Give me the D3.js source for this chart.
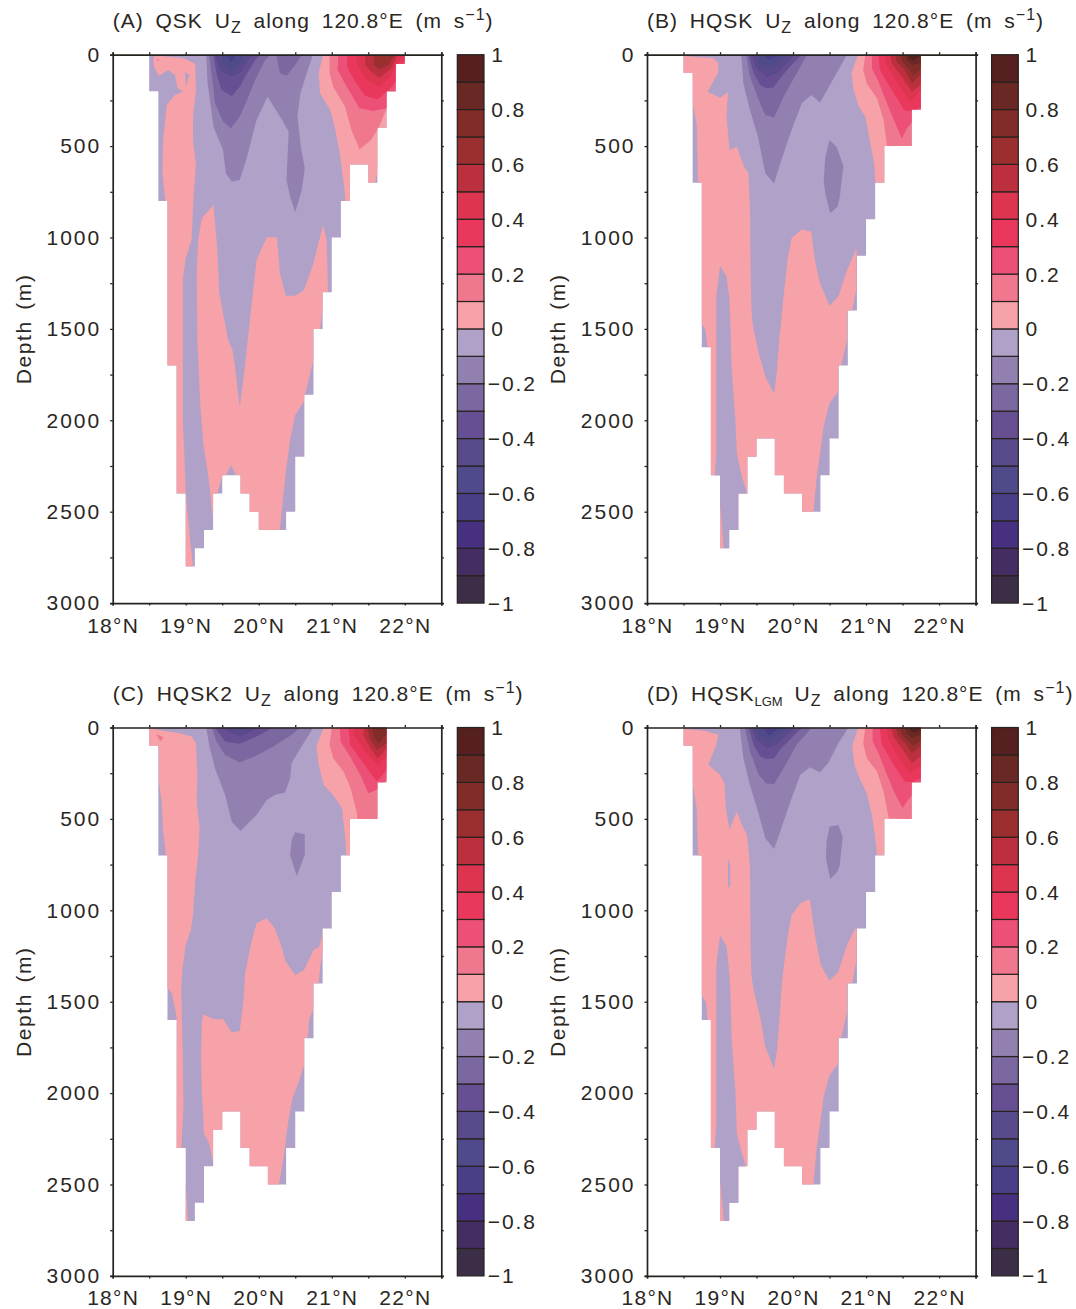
<!DOCTYPE html>
<html>
<head>
<meta charset="utf-8">
<script src="https://cdn.jsdelivr.net/npm/d3@7"></script>
<style>
  html, body { margin: 0; background: #fff; }
  svg { display: block; }
  text { font-family: "Liberation Sans", Arial, sans-serif; fill: #2a2622; }
</style>
</head>
<body>
<svg width="1076" height="1309"></svg>
<script>
// colour bands from -1 to 1, one for every 0.1
const bandColors = ["#3c2e47", "#432d63", "#46307f", "#493f88", "#4f4a8a", "#594a8c", "#665093", "#7b68a0", "#9180b0", "#afa1c8",
  "#f6a2a8", "#f0788e", "#ec5077", "#e9385c", "#dd3450", "#bb2f3f", "#9b2f30", "#822c2a", "#6a2825", "#55201f"];
const barLabels = [1, 0.8, 0.6, 0.4, 0.2, 0, -0.2, -0.4, -0.6, -0.8, -1];
const latTicks = d3.range(18, 22.51, 0.5);
const depthTicks = d3.range(0, 3001, 250);

// sea floor: depth of each 1/8 degree column, starting at 18.5N
const floorA = [200, 800, 1700, 2400, 2800, 2700, 2600, 2400, 2300, 2300, 2400, 2500, 2600, 2600, 2600, 2500, 2200, 1860, 1500, 1300, 1000, 800, 600, 600, 700, 400, 200, 50];
const floorB = [100, 700, 1600, 2300, 2700, 2600, 2400, 2200, 2100, 2100, 2300, 2400, 2400, 2500, 2500, 2300, 2100, 1700, 1400, 1100, 900, 700, 500, 500, 500, 300];

// contour bands: [band, [[lat, depth], ...]], painted in order
const layersA = [
  [0.05, [[18.56,10],[18.67,7],[18.97,20],[19.13,50],[19.14,193],[19.10,339],[19.10,467],[19.14,603],[19.11,758],[19.08,1014],[19.00,1114],[18.96,1232],[18.96,1560],[18.96,1997],[18.98,2180],[19.00,2398],[19.06,2654],[19.10,2796],[19.10,2820],[18.7,2820],[18.7,810],[18.72,802],[18.68,649],[18.69,467],[18.74,275],[18.85,221],[18.96,202],[18.89,184],[18.85,111],[18.76,84],[18.63,117],[18.56,57]]],
  [-0.05, [[18.99,93],[19.05,111],[19.00,175]]],
  [0.15, [[18.61,22],[18.64,28],[18.61,36]]],
  [0.05, [[19.38,822],[19.43,1050],[19.46,1305],[19.58,1560],[19.64,1614],[19.68,1723],[19.74,1928],[19.80,1742],[19.85,1560],[19.88,1450],[19.97,1123],[20.11,999],[20.25,999],[20.29,1196],[20.37,1318],[20.50,1318],[20.62,1287],[20.75,1141],[20.88,932],[20.93,1014],[20.95,1300],[20.88,1300],[20.88,1378],[20.84,1502],[20.75,1502],[20.75,1669],[20.63,1864],[20.62,1897],[20.50,1970],[20.43,2106],[20.38,2252],[20.34,2398],[20.29,2598],[20.29,2620],[19.74,2620],[19.74,2300],[19.69,2300],[19.62,2243],[19.55,2300],[19.50,2307],[19.43,2402],[19.40,2416],[19.375,2544],[19.31,2307],[19.24,2125],[19.20,1924],[19.16,1559],[19.15,1196],[19.17,1014],[19.22,895]]],
  [0.05, [[20.88,0],[20.82,102],[20.84,211],[20.98,303],[21.05,412],[21.11,540],[21.17,722],[21.19,813],[21.48,813],[21.59,707],[21.63,631],[21.94,467],[22.16,0]]],
  [0.15, [[20.97,0],[20.97,102],[21.02,175],[21.18,284],[21.27,412],[21.38,518],[21.53,470],[21.64,403],[21.80,248],[22.16,0]]],
  [0.25, [[21.09,0],[21.08,84],[21.18,157],[21.38,293],[21.57,308],[21.75,293],[22.16,0]]],
  [0.35, [[21.21,0],[21.21,66],[21.32,148],[21.46,226],[21.63,244],[21.78,193],[21.89,139],[22.03,0]]],
  [0.45, [[21.34,0],[21.34,47],[21.46,129],[21.64,175],[21.80,120],[21.89,57],[22.0,0]]],
  [0.55, [[21.46,0],[21.46,57],[21.56,102],[21.66,126],[21.81,75],[21.88,20],[21.90,0]]],
  [0.65, [[21.58,0],[21.57,57],[21.66,80],[21.78,57],[21.86,0]]],
  [-0.15, [[19.28,0],[19.30,157],[19.38,394],[19.51,521],[19.55,649],[19.63,695],[19.74,685],[19.84,558],[19.97,357],[20.12,230],[20.32,357],[20.41,421],[20.38,685],[20.43,777],[20.50,862],[20.59,740],[20.63,622],[20.58,512],[20.53,339],[20.57,211],[20.74,0]]],
  [-0.25, [[19.32,0],[19.36,120],[19.40,266],[19.51,366],[19.62,403],[19.74,339],[19.84,248],[19.95,139],[20.09,29],[20.16,0]]],
  [-0.25, [[20.24,0],[20.29,102],[20.38,115],[20.50,57],[20.59,0]]],
  [-0.35, [[19.38,0],[19.42,102],[19.49,193],[19.63,226],[19.74,175],[19.84,102],[19.95,29],[20.02,0]]],
  [-0.45, [[19.40,0],[19.47,84],[19.61,120],[19.74,102],[19.86,29],[19.90,0]]],
  [-0.55, [[19.47,0],[19.52,47],[19.62,84],[19.74,47],[19.81,0]]],
  [-0.65, [[19.55,0],[19.62,40],[19.70,0]]]
];

const layersB = [
  [0.05, [[18.4,7],[18.50,7],[18.91,20],[18.98,47],[18.97,102],[18.83,202],[19.00,235],[19.11,206],[19.09,339],[19.13,521],[19.23,503],[19.33,613],[19.39,649],[19.41,831],[19.42,1196],[19.43,1378],[19.44,1450],[19.46,1505],[19.53,1632],[19.62,1760],[19.74,1855],[19.78,1723],[19.81,1559],[19.84,1450],[19.87,1323],[19.93,1105],[19.98,1004],[20.12,955],[20.25,968],[20.30,1123],[20.37,1251],[20.50,1373],[20.62,1323],[20.74,1178],[20.87,1059],[20.87,1278],[20.81,1402],[20.74,1402],[20.74,1559],[20.66,1700],[20.62,1700],[20.62,1842],[20.50,1906],[20.42,2033],[20.37,2179],[20.32,2325],[20.28,2498],[20.28,2526],[19.0,2720],[18.85,2720],[18.83,1614],[18.83,1600],[18.80,1505],[18.74,1468],[18.70,1468],[18.70,704],[18.68,376],[18.62,257],[18.62,102],[18.4,110]]],
  [-0.05, [[19.0,1156],[19.09,1214],[19.13,1342],[19.14,1450],[19.16,1723],[19.21,1997],[19.23,2179],[19.30,2307],[19.37,2402],[19.37,2720],[19.05,2720],[19.05,2700],[19.0,2453],[18.93,2300],[18.95,2179],[18.95,1997],[18.95,1450],[18.95,1323]]],
  [0.05, [[20.89,0],[20.80,102],[20.83,193],[20.90,284],[20.99,339],[21.05,467],[21.11,594],[21.13,713],[21.72,713],[21.95,0]]],
  [0.15, [[20.99,0],[20.96,84],[21.01,157],[21.15,239],[21.24,357],[21.29,512],[21.72,512],[21.85,0]]],
  [0.25, [[21.08,0],[21.08,75],[21.17,148],[21.26,239],[21.37,348],[21.49,458],[21.56,403],[21.65,357],[21.76,306],[21.85,0]]],
  [0.35, [[21.17,0],[21.19,84],[21.35,193],[21.53,306],[21.65,306],[21.85,270],[21.85,0]]],
  [0.45, [[21.26,0],[21.28,57],[21.44,157],[21.60,257],[21.76,193],[21.85,0]]],
  [0.55, [[21.33,0],[21.35,47],[21.49,120],[21.63,202],[21.76,157],[21.85,0]]],
  [0.65, [[21.40,0],[21.42,38],[21.53,84],[21.63,157],[21.76,102],[21.85,0]]],
  [0.75, [[21.47,0],[21.49,38],[21.58,75],[21.65,111],[21.76,75],[21.85,0]]],
  [0.85, [[21.53,0],[21.56,29],[21.63,57],[21.76,44],[21.85,0]]],
  [0.95, [[21.58,0],[21.60,20],[21.65,33],[21.76,0]]],
  [-0.15, [[19.29,0],[19.32,157],[19.41,303],[19.52,449],[19.62,649],[19.74,704],[19.84,576],[19.98,412],[20.12,266],[20.25,221],[20.37,261],[20.48,184],[20.62,84],[20.74,0]]],
  [-0.15, [[20.50,467],[20.60,507],[20.69,609],[20.64,777],[20.61,831],[20.51,868],[20.45,777],[20.42,695],[20.44,567]]],
  [-0.25, [[19.36,0],[19.41,120],[19.53,248],[19.62,330],[19.74,343],[19.87,230],[20.05,102],[20.19,0]]],
  [-0.35, [[19.39,0],[19.46,102],[19.55,166],[19.63,184],[19.73,180],[19.84,120],[19.98,57],[20.12,0]]],
  [-0.45, [[19.43,0],[19.50,75],[19.64,120],[19.78,102],[19.91,47],[20.03,0]]],
  [-0.55, [[19.48,0],[19.55,47],[19.66,66],[19.80,38],[19.91,0]]],
  [-0.65, [[19.59,0],[19.66,29],[19.78,7],[19.82,0]]]
];

const layersC = [
  [0.05, [[18.4,7],[18.50,4],[18.69,18],[18.92,31],[19.08,49],[19.14,86],[19.16,259],[19.15,405],[19.19,551],[19.17,697],[19.13,843],[19.10,1026],[19.07,1108],[19.0,1190],[18.95,1336],[18.94,1436],[18.96,1801],[18.97,2075],[18.95,2221],[18.94,2312],[18.87,2312],[18.88,1618],[18.88,1597],[18.85,1527],[18.81,1454],[18.75,1427],[18.70,1427],[18.73,697],[18.69,569],[18.67,405],[18.63,287],[18.63,104],[18.4,104]]],
  [0.05, [[19.0,2495],[19.03,2695],[19.03,2720],[18.98,2720],[18.98,2495]]],
  [0.15, [[18.60,36],[18.70,55],[18.65,77]]],
  [0.05, [[19.97,1071],[20.11,1044],[20.22,1099],[20.29,1172],[20.37,1281],[20.50,1354],[20.62,1327],[20.75,1217],[20.83,1199],[20.88,1117],[20.88,1208],[20.84,1318],[20.82,1400],[20.75,1400],[20.75,1536],[20.69,1600],[20.67,1697],[20.62,1697],[20.62,1847],[20.54,1947],[20.47,2020],[20.43,2093],[20.38,2221],[20.36,2296],[20.32,2403],[20.28,2495],[20.28,2531],[19.38,2531],[19.38,2394],[19.36,2348],[19.32,2276],[19.25,2221],[19.22,1984],[19.21,1801],[19.22,1618],[19.24,1569],[19.38,1595],[19.51,1595],[19.63,1668],[19.74,1659],[19.79,1491],[19.80,1436],[19.81,1354],[19.88,1208]]],
  [0.05, [[20.89,0],[20.79,104],[20.82,204],[20.89,314],[21.02,369],[21.14,442],[21.18,588],[21.20,697],[21.72,697],[21.95,0]]],
  [0.15, [[21.0,0],[20.97,95],[21.02,168],[21.16,241],[21.25,323],[21.34,460],[21.35,500],[21.72,500],[21.85,0]]],
  [0.25, [[21.11,0],[21.12,77],[21.25,159],[21.39,259],[21.50,360],[21.62,341],[21.75,287],[21.85,0]]],
  [0.35, [[21.23,0],[21.25,95],[21.43,195],[21.62,296],[21.75,232],[21.85,0]]],
  [0.45, [[21.32,0],[21.30,40],[21.48,141],[21.63,204],[21.75,159],[21.85,0]]],
  [0.55, [[21.45,0],[21.43,40],[21.53,113],[21.63,168],[21.75,113],[21.85,0]]],
  [0.65, [[21.48,0],[21.53,68],[21.62,122],[21.75,86],[21.85,0]]],
  [0.75, [[21.55,0],[21.57,49],[21.64,86],[21.75,40],[21.85,0]]],
  [-0.15, [[19.28,0],[19.33,113],[19.40,223],[19.54,369],[19.63,515],[19.75,566],[19.97,478],[20.11,396],[20.22,369],[20.36,356],[20.43,277],[20.45,195],[20.57,113],[20.75,0]]],
  [-0.15, [[20.50,573],[20.63,584],[20.63,697],[20.52,812],[20.43,697],[20.45,615]]],
  [-0.25, [[19.36,0],[19.42,77],[19.54,150],[19.74,192],[19.97,153],[20.20,104],[20.45,40],[20.57,0]]],
  [-0.35, [[19.40,0],[19.54,77],[19.74,89],[19.97,49],[20.20,0]]],
  [-0.45, [[19.5,0],[19.62,30],[19.75,48],[19.9,20],[20.0,0]]],
  [-0.55, [[19.65,0],[19.75,15],[19.85,0]]]
];

const layersD = [
  [0.05, [[18.4,7],[18.50,7],[18.79,18],[18.98,40],[18.95,95],[18.84,204],[19.0,259],[19.06,305],[19.08,442],[19.13,560],[19.23,460],[19.30,533],[19.37,588],[19.41,752],[19.42,1208],[19.43,1354],[19.46,1436],[19.55,1582],[19.62,1746],[19.74,1865],[19.78,1765],[19.81,1618],[19.84,1436],[19.87,1318],[19.93,1135],[19.98,1026],[20.10,962],[20.23,940],[20.30,1135],[20.38,1299],[20.50,1385],[20.62,1336],[20.74,1190],[20.87,1084],[20.87,1272],[20.81,1400],[20.74,1400],[20.74,1555],[20.66,1697],[20.62,1697],[20.62,1838],[20.50,1901],[20.42,2020],[20.37,2166],[20.32,2312],[20.28,2494],[20.28,2531],[19.0,2720],[18.85,2720],[18.83,1610],[18.83,1597],[18.81,1509],[18.74,1454],[18.70,1454],[18.70,697],[18.68,442],[18.62,296],[18.62,104],[18.4,104]]],
  [-0.05, [[19.0,1135],[19.09,1199],[19.13,1354],[19.14,1436],[19.16,1710],[19.21,1984],[19.23,2221],[19.30,2330],[19.35,2394],[19.37,2531],[19.375,2750],[19.05,2750],[19.05,2695],[19.0,2476],[18.93,2294],[18.95,2166],[18.95,1436],[18.95,1299]]],
  [-0.05, [[19.11,715],[19.14,752],[19.14,861],[19.11,880]]],
  [0.05, [[20.89,0],[20.81,104],[20.84,204],[20.92,287],[21.01,360],[21.08,478],[21.12,588],[21.15,697],[21.72,697],[21.95,0]]],
  [0.15, [[20.99,0],[20.96,86],[21.01,168],[21.15,241],[21.24,350],[21.31,496],[21.72,505],[21.85,0]]],
  [0.25, [[21.09,0],[21.09,77],[21.17,141],[21.26,232],[21.37,341],[21.50,442],[21.56,405],[21.63,369],[21.76,305],[21.85,0]]],
  [0.35, [[21.19,0],[21.21,86],[21.35,186],[21.53,296],[21.63,299],[21.76,277],[21.85,0]]],
  [0.45, [[21.28,0],[21.30,58],[21.44,159],[21.60,250],[21.76,204],[21.85,0]]],
  [0.55, [[21.35,0],[21.37,49],[21.49,113],[21.63,195],[21.76,150],[21.85,0]]],
  [0.65, [[21.40,0],[21.44,49],[21.54,86],[21.63,141],[21.76,95],[21.85,0]]],
  [0.75, [[21.47,0],[21.49,40],[21.58,77],[21.65,104],[21.76,68],[21.85,0]]],
  [0.85, [[21.53,0],[21.56,31],[21.63,58],[21.76,40],[21.85,0]]],
  [0.95, [[21.58,0],[21.63,26],[21.70,22],[21.76,0]]],
  [-0.15, [[19.27,0],[19.32,168],[19.41,314],[19.52,460],[19.62,606],[19.74,664],[19.84,551],[19.98,387],[20.10,259],[20.23,217],[20.37,245],[20.48,195],[20.62,86],[20.76,0]]],
  [-0.15, [[20.50,542],[20.62,533],[20.68,597],[20.64,752],[20.61,788],[20.51,829],[20.45,715],[20.46,624]]],
  [-0.25, [[19.34,0],[19.41,131],[19.53,259],[19.63,305],[19.74,310],[19.87,223],[20.05,95],[20.21,22],[20.26,0]]],
  [-0.35, [[19.39,0],[19.46,95],[19.55,159],[19.63,172],[19.74,168],[19.84,113],[19.98,58],[20.12,0]]],
  [-0.45, [[19.43,0],[19.50,68],[19.64,113],[19.78,95],[19.91,40],[20.03,0]]],
  [-0.55, [[19.48,0],[19.57,49],[19.66,73],[19.80,40],[19.91,0]]],
  [-0.65, [[19.59,0],[19.67,44],[19.78,13],[19.82,0]]]
];

const panels = [
  { id: "A", name: "QSK", sub: "", floor: floorA, layers: layersA, left: 112.7, top: 54.7 },
  { id: "B", name: "HQSK", sub: "", floor: floorB, layers: layersB, left: 647, top: 54.7 },
  { id: "C", name: "HQSK2", sub: "", floor: floorB, layers: layersC, left: 112.7, top: 727.5 },
  { id: "D", name: "HQSK", sub: "LGM", floor: floorB, layers: layersD, left: 647, top: 727.5 }
];

const svg = d3.select("svg");
const width = 328.6;
const height = 548.4;
const ink = "#26221e";

const color = d3.scaleQuantize().domain([-1, 1]).range(bandColors);
const barStops = d3.range(20).map(i => -1 + i * 0.1);

panels.forEach(p => {
  const g = svg.append("g").attr("transform", `translate(${p.left},${p.top})`);
  const x = d3.scaleLinear().domain([18, 22.5]).range([0, width]);
  const y = d3.scaleLinear().domain([0, 3000]).range([0, height]);

  // water column, stepped along the sea floor
  const columns = p.floor.map((d, i) => ({ lat: 18.5 + i * 0.125, depth: d }));
  columns.push({ lat: 18.5 + p.floor.length * 0.125, depth: p.floor[p.floor.length - 1] });
  const water = d3.area().curve(d3.curveStepAfter).x(d => x(d.lat)).y0(y(0)).y1(d => y(d.depth))(columns);

  g.append("clipPath").attr("id", "water" + p.id).append("path").attr("d", water);
  g.append("path").attr("d", water).attr("fill", color(-0.05));

  const contour = d3.line().x(d => x(d[0])).y(d => y(d[1]));
  g.append("g")
    .attr("clip-path", `url(#water${p.id})`)
    .selectAll("path")
    .data(p.layers)
    .enter()
    .append("path")
    .attr("d", d => contour(d[1]) + "Z")
    .attr("fill", d => color(d[0]));

  // axes on all four sides, labels on left and bottom
  const latLabel = d => Number.isInteger(d) ? d + "°N" : "";
  const depthLabel = d => d % 500 === 0 ? d : "";
  const axes = [
    d3.axisBottom(x).tickValues(latTicks).tickFormat(latLabel).tickSize(2.5).tickPadding(12),
    d3.axisTop(x).tickValues(latTicks).tickFormat("").tickSize(2.5),
    d3.axisLeft(y).tickValues(depthTicks).tickFormat(depthLabel).tickSize(2.5).tickPadding(9),
    d3.axisRight(y).tickValues(depthTicks).tickFormat("").tickSize(2.5)
  ];
  const shifts = [[0, height], [0, 0], [0, 0], [width, 0]];
  axes.forEach((axis, i) => {
    const a = g.append("g").attr("transform", `translate(${shifts[i][0]},${shifts[i][1]})`).call(axis);
    a.select(".domain").attr("stroke", ink).attr("stroke-width", 1.7);
    a.selectAll(".tick line").attr("stroke", ink).attr("stroke-width", 1.3);
    a.selectAll("text").attr("font-size", 21).attr("letter-spacing", i === 0 ? 1.3 : 2).attr("fill", ink)
      .style("font-family", '"Liberation Sans", Arial, sans-serif');
  });

  g.append("text")
    .attr("transform", `translate(-82,${height / 2}) rotate(-90)`)
    .attr("text-anchor", "middle")
    .attr("font-size", 21)
    .attr("letter-spacing", 1.6)
    .attr("word-spacing", 3)
    .text("Depth (m)");

  // title
  const title = g.append("text").attr("x", 0).attr("y", -27).attr("font-size", 21)
    .attr("letter-spacing", 1).attr("word-spacing", 5);
  title.append("tspan").text(`(${p.id}) ${p.name}`);
  if (p.sub) {
    title.append("tspan").attr("font-size", 13).attr("dy", 5).attr("letter-spacing", 0).text(p.sub);
    title.append("tspan").attr("dy", -5).text(" U");
  } else {
    title.append("tspan").text(" U");
  }
  title.append("tspan").attr("font-size", 16).attr("dy", 5).text("Z");
  title.append("tspan").attr("dy", -5).text(" along 120.8°E (m s");
  title.append("tspan").attr("font-size", 16).attr("dy", -8).text("−1");
  title.append("tspan").attr("dy", 8).text(")");

  // colour bar
  const bar = d3.scaleLinear().domain([1, -1]).range([0, height]);
  const barG = g.append("g").attr("transform", `translate(344.6,0)`);
  barG.selectAll("rect")
    .data(barStops)
    .enter()
    .append("rect")
    .attr("x", 0)
    .attr("y", d => bar(d + 0.1))
    .attr("width", 26.7)
    .attr("height", d => bar(d) - bar(d + 0.1))
    .attr("fill", d => color(d + 0.05))
    .attr("stroke", ink)
    .attr("stroke-width", 1.2);
  barG.selectAll("text")
    .data(barLabels)
    .enter()
    .append("text")
    .attr("x", d => d < 0 ? 30.5 : 34)
    .attr("y", d => bar(d) + 7.5)
    .attr("font-size", 21)
    .attr("letter-spacing", 1.9)
    .text(d => d < 0 ? "−" + Math.abs(d) : d);
});
</script>
</body>
</html>
